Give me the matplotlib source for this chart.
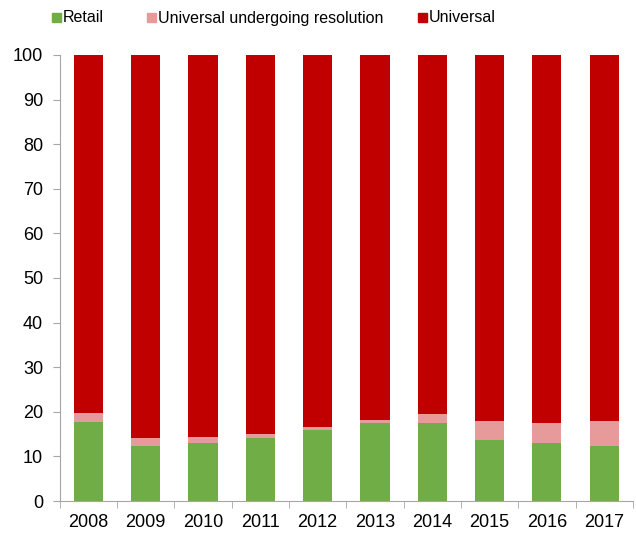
import numpy as np
import matplotlib.pyplot as plt
from matplotlib.patches import Rectangle

plt.rcParams['font.family'] = ['Liberation Sans', 'DejaVu Sans']

# Datos (porcentaje)
years = ['2008', '2009', '2010', '2011', '2012', '2013', '2014', '2015', '2016', '2017']
retail = [17.8, 12.4, 12.9, 14.2, 16.0, 17.4, 17.6, 13.7, 13.1, 12.4]
resolution = [1.9, 1.7, 1.5, 0.9, 0.5, 0.8, 1.9, 4.2, 4.5, 5.5]
universal = [100 - r - s for r, s in zip(retail, resolution)]
labels = ['Retail', 'Universal undergoing resolution', 'Universal']

c_retail = '#70ad47'
c_res = '#e69a9a'
c_univ = '#c00000'
colors = [c_retail, c_res, c_univ]

fig = plt.figure(figsize=(6.36, 5.33), dpi=100)
ax = fig.add_axes([0.094, 0.06, 0.901, 0.837])

x = np.arange(len(years))
w = 0.51
ax.bar(x, retail, w, color=c_retail)
ax.bar(x, resolution, w, bottom=retail, color=c_res)
ax.bar(x, universal, w, bottom=np.array(retail) + np.array(resolution), color=c_univ)

ax.set_xlim(-0.5, 9.5)
ax.set_ylim(0, 100)
ax.set_yticks(np.arange(0, 101, 10))
ax.set_xticks(x)
ax.set_xticklabels(years)
ax.set_xticks(np.arange(-0.5, 10, 1), minor=True)
ax.tick_params(axis='x', which='major', length=0, labelsize=13, pad=9)
ax.tick_params(axis='x', which='minor', length=5, color='#a6a6a6')
ax.tick_params(axis='y', length=5, color='#a6a6a6', labelsize=13, pad=7)
for s in ['top', 'right']:
    ax.spines[s].set_visible(False)
for s in ['left', 'bottom']:
    ax.spines[s].set_color('#a6a6a6')

# Leyenda manual (cuadro + texto)
leg_x = [52, 147, 418]  # posición en píxeles del cuadro
for px, c, lab in zip(leg_x, colors, labels):
    fig.patches.append(Rectangle((px / 636, 1 - 22 / 533), 9 / 636, 9 / 533,
                                 transform=fig.transFigure, color=c))
    fig.text((px + 11) / 636, 1 - 18 / 533, lab, fontsize=11.5, va='center', ha='left')

fig.savefig('out.png', dpi=100)
